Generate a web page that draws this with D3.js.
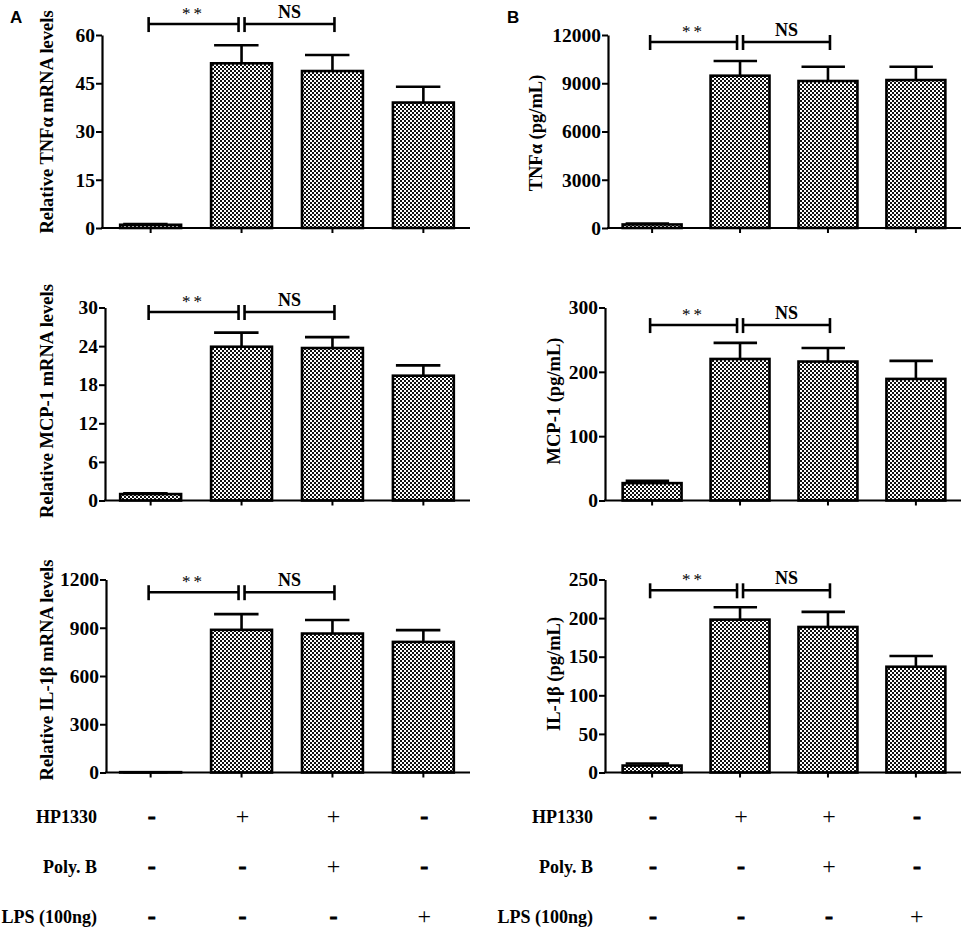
<!DOCTYPE html>
<html><head><meta charset="utf-8">
<script src="https://cdn.jsdelivr.net/npm/d3@7"></script>
<style>body{margin:0;background:#fff} svg{display:block}</style>
</head><body>
<svg id="c" width="966" height="931"></svg>
<script>
// ---------------- data ----------------
const groups = ["Control", "HP1330", "HP1330 + Poly. B", "LPS"];

const tnfMrna     = [1, 51.2, 48.8, 39.0];
const tnfMrnaErr  = [0.2, 5.6, 5.0, 4.9];
const mcpMrna     = [1, 23.9, 23.7, 19.4];
const mcpMrnaErr  = [0.1, 2.2, 1.7, 1.6];
const il1bMrna    = [2, 887, 864, 812];
const il1bMrnaErr = [0, 98, 84, 73];

const tnfProt     = [220, 9470, 9140, 9200];
const tnfProtErr  = [60, 910, 890, 830];
const mcpProt     = [27, 220, 216, 189];
const mcpProtErr  = [3.5, 25, 21, 28];
const il1bProt    = [9, 198, 188.5, 137];
const il1bProtErr = [2.6, 16, 19.5, 14];

const ticksTnfMrna  = [0, 15, 30, 45, 60];
const ticksMcpMrna  = [0, 6, 12, 18, 24, 30];
const ticksIl1bMrna = [0, 300, 600, 900, 1200];
const ticksTnfProt  = [0, 3000, 6000, 9000, 12000];
const ticksMcpProt  = [0, 100, 200, 300];
const ticksIl1bProt = [0, 50, 100, 150, 200, 250];

const yLabels = ["Relative TNF\u03b1 mRNA levels", "Relative MCP-1 mRNA levels", "Relative IL-1\u03b2 mRNA levels",
                 "TNF\u03b1 (pg/mL)", "MCP-1 (pg/mL)", "IL-1\u03b2 (pg/mL)"];
const sigLabels = ["**", "NS"];
// bracket heights in data units
const bracketLevels = [63.4, 29.3, 1121, 11565, 272.7, 236];

const rowLabels = ["HP1330", "Poly. B", "LPS (100ng)"];
const rowSigns = [["-", "+", "+", "-"], ["-", "-", "+", "-"], ["-", "-", "-", "+"]];
const panelLetters = ["A", "B"];

// ---------------- layout ----------------
const svg = d3.select("#c");
const SERIF = "'Liberation Serif','Times New Roman',serif";
const SANS = "'Liberation Sans',Arial,sans-serif";

const defs = svg.append("defs");
const pat = defs.append("pattern").attr("id", "chk").attr("patternUnits", "userSpaceOnUse")
  .attr("width", 4).attr("height", 4);
pat.append("rect").attr("width", 4).attr("height", 4).attr("fill", "#fff");
pat.append("rect").attr("width", 2).attr("height", 2).attr("fill", "#111");
pat.append("rect").attr("x", 2).attr("y", 2).attr("width", 2).attr("height", 2).attr("fill", "#111");

const cols = [
  { range: [102, 472], po: 0.2, x1: 470, axX: [102, 105, 106], labX: [53, 53, 53], labY: [122, 401, 670],
    tableLabX: 97, letterX: 10 },
  { range: [607, 961], po: 0.178, x1: 961, axX: [608, 605, 605], labX: [542, 560, 560], labY: [133, 401, 674],
    tableLabX: 593, letterX: 507 }
];
const rows = [ { y0: 228, y1: 35 }, { y0: 500.5, y1: 307.5 }, { y0: 772.5, y1: 579.5 } ];

const panels = [
  { c: 0, r: 0, v: tnfMrna,  e: tnfMrnaErr,  t: ticksTnfMrna },
  { c: 0, r: 1, v: mcpMrna,  e: mcpMrnaErr,  t: ticksMcpMrna },
  { c: 0, r: 2, v: il1bMrna, e: il1bMrnaErr, t: ticksIl1bMrna },
  { c: 1, r: 0, v: tnfProt,  e: tnfProtErr,  t: ticksTnfProt },
  { c: 1, r: 1, v: mcpProt,  e: mcpProtErr,  t: ticksMcpProt },
  { c: 1, r: 2, v: il1bProt, e: il1bProtErr, t: ticksIl1bProt }
];

const xScales = cols.map(col => d3.scaleBand().domain(groups).range(col.range)
  .paddingInner(0.33).paddingOuter(col.po));

panels.forEach((p, i) => {
  const col = cols[p.c], row = rows[p.r];
  const x = xScales[p.c];
  const y = d3.scaleLinear().domain([0, d3.max(p.t)]).range([row.y0, row.y1]);
  const ax = col.axX[p.r];
  const g = svg.append("g");
  const bw = x.bandwidth();

  // bars
  g.selectAll("rect.bar").data(groups).join("rect").attr("class", "bar")
    .attr("x", d => x(d)).attr("width", bw)
    .attr("y", (d, k) => y(p.v[k])).attr("height", (d, k) => Math.max(0, y(0) - y(p.v[k])))
    .attr("fill", "url(#chk)").attr("stroke", "#000").attr("stroke-width", 2.6);

  // error bars (upper only)
  const eg = g.selectAll("g.err").data(groups).join("g").attr("class", "err");
  eg.append("line")
    .attr("x1", d => x(d) + bw / 2).attr("x2", d => x(d) + bw / 2)
    .attr("y1", (d, k) => y(p.v[k])).attr("y2", (d, k) => y(p.v[k] + p.e[k]))
    .attr("stroke", "#000").attr("stroke-width", 2.6);
  eg.append("line")
    .attr("x1", d => x(d) + 3).attr("x2", d => x(d) + bw / 2 + 17)
    .attr("y1", (d, k) => y(p.v[k] + p.e[k])).attr("y2", (d, k) => y(p.v[k] + p.e[k]))
    .attr("stroke", "#000").attr("stroke-width", 2.6);

  // y axis
  const yAxis = d3.axisLeft(y).tickValues(p.t).tickFormat(d3.format("d"))
    .tickSize(6).tickSizeOuter(0).tickPadding(1);
  const yg = g.append("g").attr("transform", `translate(${ax},0)`).call(yAxis);
  yg.select(".domain").attr("stroke-width", 2.2);
  yg.selectAll(".tick line").attr("stroke-width", 2);
  yg.selectAll(".tick text").attr("font-family", SERIF).attr("font-weight", "bold")
    .attr("font-size", 19.5).attr("fill", "#000");

  // x axis
  const xAxis = d3.axisBottom(x).tickSize(5).tickSizeOuter(0).tickFormat("");
  const xg = g.append("g").attr("transform", `translate(0,${y(0)})`).call(xAxis);
  xg.select(".domain").remove();
  xg.selectAll(".tick line").attr("stroke-width", 2);
  g.append("line").attr("x1", ax - 1).attr("x2", col.x1).attr("y1", y(0)).attr("y2", y(0))
    .attr("stroke", "#000").attr("stroke-width", 2.2);

  // y label
  g.append("text").attr("transform", `translate(${col.labX[p.r]},${col.labY[p.r]}) rotate(-90)`)
    .attr("text-anchor", "middle").attr("font-family", SERIF).attr("font-weight", "bold")
    .attr("font-size", 18.5).text(yLabels[i]);

  // significance brackets
  const by = y(bracketLevels[i]);
  const c0 = x(groups[0]) + bw / 2, c1 = x(groups[1]) + bw / 2, c2 = x(groups[2]) + bw / 2;
  const segs = [[c0 - 2, c1 - 3], [c1 + 3, c2 + 2]];
  segs.forEach((s, k) => {
    const bg = g.append("g").attr("stroke", "#000").attr("stroke-width", 2.6);
    bg.append("line").attr("x1", s[0]).attr("x2", s[1]).attr("y1", by).attr("y2", by);
    bg.append("line").attr("x1", s[0]).attr("x2", s[0]).attr("y1", by - 7).attr("y2", by + 8);
    bg.append("line").attr("x1", s[1]).attr("x2", s[1]).attr("y1", by - 7).attr("y2", by + 8);
    g.append("text").attr("x", (s[0] + s[1]) / 2).attr("y", by - (k === 0 ? 5 : 6))
      .attr("text-anchor", "middle").attr("font-family", SERIF).attr("font-weight", k === 0 ? "normal" : "bold")
      .attr("font-size", k === 0 ? 17 : 18).attr("letter-spacing", k === 0 ? 3 : 0).text(sigLabels[k]);
  });
});

// panel letters
cols.forEach((col, c) => {
  svg.append("text").attr("x", col.letterX).attr("y", 23).attr("font-family", SANS)
    .attr("font-weight", "bold").attr("font-size", 17).text(panelLetters[c]);
});

// treatment table
const rowY = [817, 867, 917];
cols.forEach((col, c) => {
  const x = xScales[c];
  rowLabels.forEach((lab, r) => {
    svg.append("text").attr("x", col.tableLabX).attr("y", rowY[r] + 6).attr("text-anchor", "end")
      .attr("font-family", SERIF).attr("font-weight", "bold").attr("font-size", 18).text(lab);
    svg.selectAll(null).data(groups).join("text")
      .attr("x", d => x(d) + x.bandwidth() / 2 + 1)
      .attr("y", rowY[r] + 7)
      .attr("text-anchor", "middle").attr("font-family", SERIF)
      .attr("font-weight", (d, k) => rowSigns[r][k] === "+" ? "normal" : "900")
      .attr("font-size", 24)
      .attr("stroke", (d, k) => rowSigns[r][k] === "+" ? "none" : "#000")
      .attr("stroke-width", 0.8)
      .text((d, k) => rowSigns[r][k]);
  });
});
</script>
</body></html>
